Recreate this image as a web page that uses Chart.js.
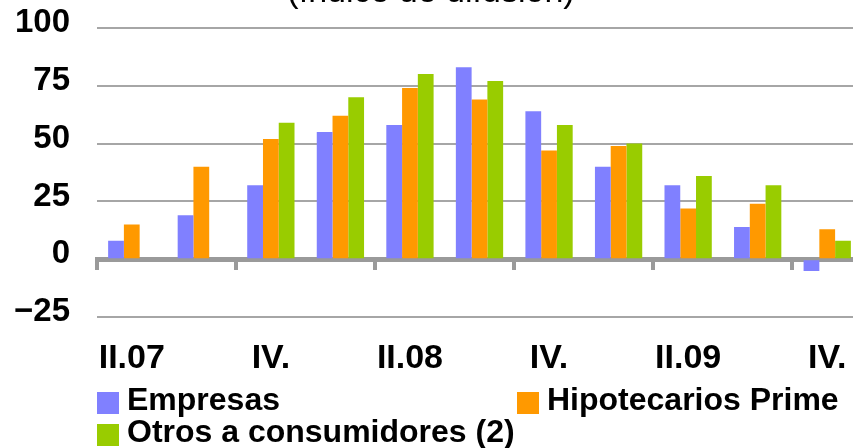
<!DOCTYPE html>
<html>
<head>
  <meta charset="utf-8">
  <title>Índice de difusión</title>
  <style>
    body {
      margin: 0;
      background: #fff;
      overflow: hidden;
    }

    .page {
      position: relative;
      width: 853px;
      height: 448px;
      overflow: hidden;
    }

    /* canvas is taller than the view so the title sits half cut off */
    .chart-box {
      position: absolute;
      left: 0;
      top: -28px;
      width: 870px;
      height: 428px;
    }

    #legend {
      position: absolute;
      left: 97px;
      top: 383px;
      display: grid;
      grid-template-columns: 420px auto;
      font: bold 32px 'Liberation Sans', Arial, sans-serif;
      line-height: 32px;
      color: #000;
    }

    .item {
      display: flex;
      align-items: center;
      white-space: nowrap;
    }

    .swatch {
      width: 22px;
      height: 22px;
      margin-right: 8px;
      margin-top: 8px;
      flex: none;
    }
  </style>
</head>
<body>

  <div class="page">
    <div class="chart-box">
      <canvas id="difusion"></canvas>
    </div>
    <div id="legend"></div>
  </div>

  <script src="https://cdn.jsdelivr.net/npm/chart.js"></script>

  <script>
    const categories = ['II.07', 'III.07', 'IV.07', 'I.08', 'II.08', 'III.08',
                        'IV.08', 'I.09', 'II.09', 'III.09', 'IV.09'];
    const tickLabels = ['II.07', '', 'IV.', '', 'II.08', '', 'IV.', '', 'II.09', '', 'IV.'];
    const empresas = [8, 19, 32, 55, 58, 83, 64, 40, 32, 14, -5];
    const hipotecarios = [15, 40, 52, 62, 74, 69, 47, 49, 22, 24, 13];
    const otros = [null, null, 59, 70, 80, 77, 58, 50, 36, 32, 8];
    const yTicks = [-25, 0, 25, 50, 75, 100];

    const FONT = "'Liberation Sans', Arial, sans-serif";

    const ctx = document.getElementById('difusion').getContext('2d');

    const chart = new Chart(ctx, {
      type: 'bar',
      data: {
        labels: categories,
        datasets: [
          { label: 'Empresas', data: empresas, backgroundColor: '#8080ff' },
          { label: 'Hipotecarios Prime', data: hipotecarios, backgroundColor: '#ff9900' },
          { label: 'Otros a consumidores (2)', data: otros, backgroundColor: '#99cc00' }
        ]
      },
      options: {
        responsive: true,
        maintainAspectRatio: false,
        animation: false,
        layout: { padding: { left: 0, right: 8, top: 0, bottom: 0 } },
        datasets: {
          bar: { categoryPercentage: 0.68, barPercentage: 1.0, borderWidth: 0 }
        },
        plugins: {
          legend: { display: false },
          tooltip: { enabled: false },
          title: {
            display: true,
            text: '(índice de difusión)',
            color: '#000',
            font: { family: FONT, size: 34, weight: 'normal' },
            padding: { top: 0, bottom: 15 }
          }
        },
        scales: {
          // axis line sitting on zero, with tick marks every two quarters
          x: {
            type: 'category',
            position: { y: 0 },
            z: 1,
            offset: true,
            border: { display: true, color: '#9a9a9a', width: 5 },
            grid: {
              offset: true,
              drawOnChartArea: false,
              drawTicks: true,
              tickLength: 8,
              lineWidth: 4,
              color: c => (c.index % 2 === 0 ? '#9a9a9a' : 'rgba(0,0,0,0)')
            },
            ticks: { display: false }
          },
          // labels at the bottom
          x2: {
            type: 'category',
            axis: 'x',
            position: 'bottom',
            labels: tickLabels,
            offset: true,
            border: { display: false },
            grid: { display: false, drawTicks: false },
            ticks: {
              autoSkip: false,
              maxRotation: 0,
              padding: 21,
              color: '#000',
              font: { family: FONT, size: 34, weight: 'bold' }
            }
          },
          y: {
            min: -25,
            max: 100,
            afterFit: s => { s.width = 97; },
            afterBuildTicks: s => { s.ticks = yTicks.map(v => ({ value: v })); },
            border: { display: false },
            grid: { color: '#a6a6a6', lineWidth: 2, drawTicks: false },
            ticks: {
              padding: 27,
              labelOffset: -5,
              color: '#000',
              font: { family: FONT, size: 33, weight: 'bold' },
              callback: v => (v < 0 ? '\u2212' + Math.abs(v) : String(v))
            }
          }
        }
      }
    });

    // legend laid out like the original: two columns
    const legend = document.getElementById('legend');
    chart.data.datasets.forEach(ds => {
      const item = document.createElement('div');
      item.className = 'item';
      item.innerHTML = `<span class="swatch" style="background:${ds.backgroundColor}"></span><span>${ds.label}</span>`;
      legend.appendChild(item);
    });
  </script>
</body>
</html>
